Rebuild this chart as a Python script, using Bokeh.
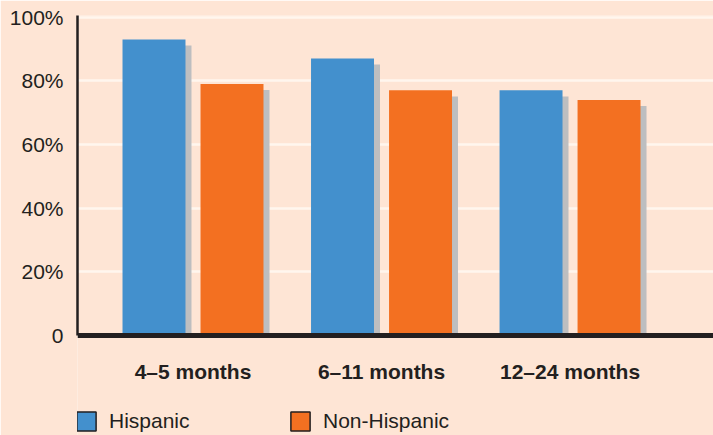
from bokeh.plotting import figure
from bokeh.models import (ColumnDataSource, Range1d, FixedTicker, Legend, LegendItem)
from bokeh.transform import dodge
from bokeh.embed import file_html
from bokeh.resources import INLINE

# Share of infants in each age group, by ethnicity (percent)
categories = ["4–5 months", "6–11 months", "12–24 months"]
hispanic = [93, 87, 77]
non_hispanic = [79, 77, 74]

y_ticks = [0, 20, 40, 60, 80, 100]
y_tick_labels = ["0", "20%", "40%", "60%", "80%", "100%"]

BG = "#fee5d5"
GRID = "#fff6ee"
INK = "#231f20"
BLUE = "#4390cd"
ORANGE = "#f37021"
SHADOW = "#bdbec0"
FONT = "Liberation Sans"

source = ColumnDataSource(data=dict(
    pos=list(range(len(categories))),
    hispanic=hispanic,
    non_hispanic=non_hispanic,
))

# the frame runs down to the page bottom so the legend can sit under the axis
p = figure(
    width=713, height=435,
    x_range=Range1d(-0.6127, 2.761),
    y_range=Range1d(-31.4, 100.5),
    output_backend="svg", toolbar_location=None,
    min_border_left=77, min_border_right=0,
    min_border_top=15, min_border_bottom=0,
)
p.background_fill_color = BG
p.border_fill_color = BG
p.outline_line_color = None

offset = 0.2069
bar_w = 0.334
shadow_dx = 0.0318
shadow_dy = -1.9

# drop shadows behind each bar
for col, dx in (("hispanic", -offset), ("non_hispanic", offset)):
    p.vbar(x=dodge("pos", dx + shadow_dx, range=p.x_range),
           top=dodge(col, shadow_dy), bottom=0, width=bar_w,
           source=source, fill_color=SHADOW, line_color=None)

p.vbar(x=dodge("pos", -offset, range=p.x_range), top="hispanic", bottom=0,
       width=bar_w, source=source, fill_color=BLUE, line_color=None)
p.vbar(x=dodge("pos", offset, range=p.x_range), top="non_hispanic", bottom=0,
       width=bar_w, source=source, fill_color=ORANGE, line_color=None)

# outlined legend swatches: flat bars on the baseline, hidden by the axis line
sw_h = p.vbar(x=dodge("pos", -offset, range=p.x_range), top=0, bottom=0,
              width=bar_w, source=source,
              fill_color=BLUE, line_color=INK, line_width=1.5)
sw_n = p.vbar(x=dodge("pos", offset, range=p.x_range), top=0, bottom=0,
              width=bar_w, source=source,
              fill_color=ORANGE, line_color=INK, line_width=1.5)

# grid
p.xgrid.grid_line_color = None
p.ygrid.ticker = FixedTicker(ticks=y_ticks)
p.ygrid.grid_line_color = GRID
p.ygrid.grid_line_width = 2.5

# y axis, its line stops at the baseline
ya = p.yaxis[0]
ya.ticker = FixedTicker(ticks=y_ticks)
ya.major_label_overrides = dict(zip(y_ticks, y_tick_labels))
ya.bounds = (0, 100.5)
ya.axis_line_color = INK
ya.axis_line_width = 2.5
ya.major_tick_line_color = None
ya.minor_tick_line_color = None
ya.major_label_standoff = 8
ya.major_label_text_font = FONT
ya.major_label_text_font_size = "21px"
ya.major_label_text_color = INK

# x axis pinned to the zero line
xa = p.xaxis[0]
xa.fixed_location = 0
xa.ticker = FixedTicker(ticks=list(range(len(categories))))
xa.major_label_overrides = {i: c for i, c in enumerate(categories)}
xa.axis_line_color = INK
xa.axis_line_width = 5
xa.major_tick_line_color = None
xa.minor_tick_line_color = None
xa.major_label_standoff = 18
xa.major_label_text_font = FONT
xa.major_label_text_font_style = "bold"
xa.major_label_text_font_size = "21px"
xa.major_label_text_color = INK

# legend swatch boxes are drawn at 80% of the glyph area
legend = Legend(
    items=[LegendItem(label="Hispanic", renderers=[sw_h]),
           LegendItem(label="Non-Hispanic", renderers=[sw_n])],
    orientation="horizontal", location=(-3, 2),
    glyph_width=24, glyph_height=24, label_standoff=11,
    label_width=179, spacing=0, padding=0, margin=0,
    border_line_color=None, background_fill_alpha=0,
    label_text_font=FONT, label_text_font_size="21px",
    label_text_color=INK,
)
p.add_layout(legend)

open("out.html", "w").write(file_html(p, INLINE))
